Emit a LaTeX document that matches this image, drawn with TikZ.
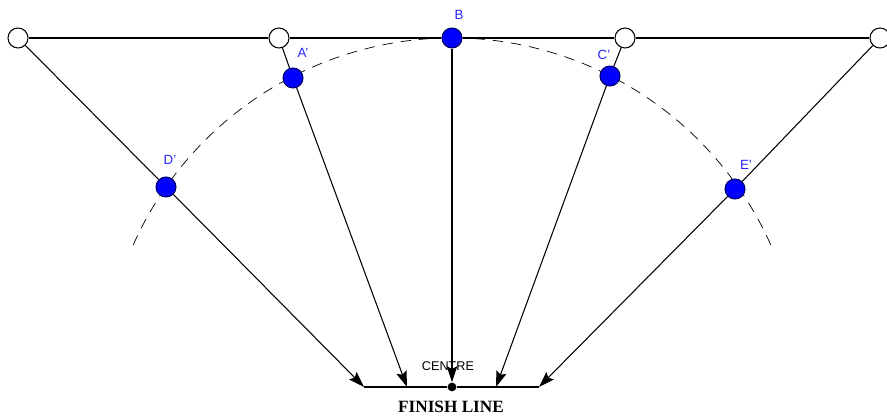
\documentclass[tikz,border=0pt]{standalone}
\usepackage{fontspec}
\setmainfont{Liberation Serif}
\setsansfont{Liberation Sans}
\usetikzlibrary{arrows.meta,calc,backgrounds}
\tikzset{
  >={Stealth[length=9pt,width=6pt,inset=1.5pt]},
  opendot/.style={draw,circle,fill=white,minimum size=0.4cm,inner sep=0pt},
  bluedot/.style={draw=blue!40!black,circle,fill=blue,minimum size=0.4cm,inner sep=0pt},
  lbl/.style={text=blue!85,font=\sffamily\fontsize{7.6}{9}\selectfont},
  arcline/.style={dash pattern=on 6pt off 4.5pt}
}
\begin{document}
\begin{tikzpicture}[x=0.02cm,y=0.02cm,line width=0.6pt]
\useasboundingbox (0,0) rectangle (887,416);
% pivots on the top line
\node[opendot](p1)at(18,378){};
\node[opendot](p2)at(279,378){};
\node[bluedot](b)at(452,378){};
\node[opendot](p3)at(625,378){};
\node[opendot](p4)at(880,378){};
% swung points
\node[bluedot](ap)at(293,338){};
\node[bluedot](cp)at(610,340){};
\node[bluedot](dp)at(166,229){};
\node[bluedot](ep)at(735,227){};
\node[lbl]at(303,363){A'};
\node[lbl]at(459,401){B};
\node[lbl]at(604,361){C'};
\node[lbl]at(170,256){D'};
\node[lbl]at(746,251){E'};
% finish line
\node[circle,fill,inner sep=0pt,minimum size=5pt](fin)at(452,29){};
\coordinate(l)at(364,29);
\coordinate(r)at(539,29);
\coordinate(fa)at(407,29);
\coordinate(fc)at(496,29);
\draw(l)--(fin)--(r);
\node[font=\sffamily\fontsize{7.2}{8}\selectfont](ctr)at(448,50){CENTRE};
\node[font=\bfseries\fontsize{9.8}{11}\selectfont](fl)at(451,9){FINISH LINE};
% top line
\draw[line width=0.8pt](p1)--(p2)--(b)--(p3)--(p4);
% radii
\draw(p1)--(dp);\draw[->](dp)--(l);
\draw(p2)--(ap);\draw[->](ap)--(fa);
\draw[->](b)--(fin);
\draw(p3)--(cp);\draw[->](cp)--(fc);
\draw(p4)--(ep);\draw[->](ep)--(r);
\begin{scope}[on background layer]
\draw[arcline]($(fin)+(156:349)$)arc[start angle=156,end angle=23,radius=349];
\end{scope}
\end{tikzpicture}
\end{document}
